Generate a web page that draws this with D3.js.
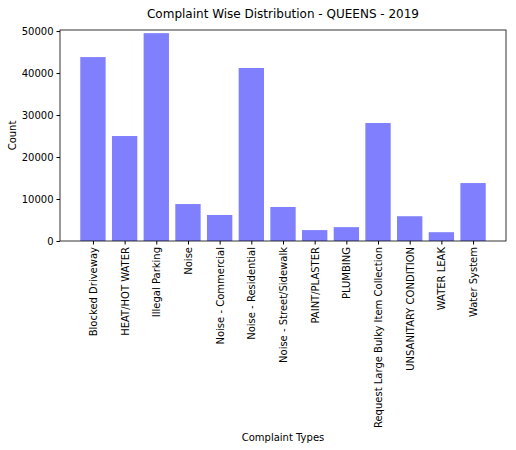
<!DOCTYPE html>
<html><head><meta charset="utf-8">
<script src="https://cdn.jsdelivr.net/npm/d3@7"></script>
<style>body{margin:0;background:#fff;font-family:"DejaVu Sans",sans-serif}</style>
</head><body><div id="chart"></div>
<script>
const categories = ["Blocked Driveway","HEAT/HOT WATER","Illegal Parking","Noise","Noise - Commercial","Noise - Residential","Noise - Street/Sidewalk","PAINT/PLASTER","PLUMBING","Request Large Bulky Item Collection","UNSANITARY CONDITION","WATER LEAK","Water System"];
const counts = [43800,25000,49500,8800,6200,41200,8100,2600,3300,28100,5900,2100,13800];
const yTicks = [0,10000,20000,30000,40000,50000];

const margin = {top: 30, right: 10, bottom: 209, left: 60};
const W = 516, H = 450;
const width = W - margin.left - margin.right, height = H - margin.top - margin.bottom;

const svg = d3.select("#chart").append("svg").attr("width", W).attr("height", H);
const g = svg.append("g").attr("transform", "translate(" + margin.left + "," + margin.top + ")");

const x = d3.scaleLinear().domain([-1.04, 13.04]).range([0, width]);
const y = d3.scaleLinear().domain([0, 50250]).range([height, 0]);

g.selectAll(".bar").data(counts).enter().append("rect")
  .attr("x", (d, i) => x(i - 0.4))
  .attr("width", x(0.8) - x(0))
  .attr("y", d => y(d))
  .attr("height", d => height - y(d))
  .attr("fill", "#8080ff");

const xa = g.append("g").attr("transform", "translate(0," + height + ")")
  .call(d3.axisBottom(x).tickValues(d3.range(categories.length)).tickFormat(i => categories[i]).tickSizeOuter(0).tickSize(3.5));
xa.selectAll("text").attr("transform", "rotate(-90)").attr("text-anchor", "end")
  .attr("x", -6).attr("y", 0).attr("dy", "0.35em").style("font-size", "10px").style("font-family", "DejaVu Sans").attr("fill", "#000");
xa.select(".domain").remove();

const ya = g.append("g").call(d3.axisLeft(y).tickValues(yTicks).tickFormat(d3.format("d")).tickSizeOuter(0).tickSize(3.5));
ya.selectAll("text").style("font-size", "10px").style("font-family", "DejaVu Sans").attr("fill", "#000");
ya.select(".domain").remove();

g.append("rect").attr("width", width).attr("height", height).attr("fill", "none").attr("stroke", "#000").attr("stroke-width", 0.8);

svg.append("text").attr("x", margin.left + width / 2).attr("y", 18).attr("text-anchor", "middle")
  .style("font-size", "12px").text("Complaint Wise Distribution - QUEENS - 2019");
svg.append("text").attr("x", margin.left + width / 2).attr("y", 441).attr("text-anchor", "middle")
  .style("font-size", "10px").text("Complaint Types");
svg.append("text").attr("transform", "translate(16," + (margin.top + height / 2) + ") rotate(-90)")
  .attr("text-anchor", "middle").style("font-size", "10px").text("Count");
</script></body></html>
